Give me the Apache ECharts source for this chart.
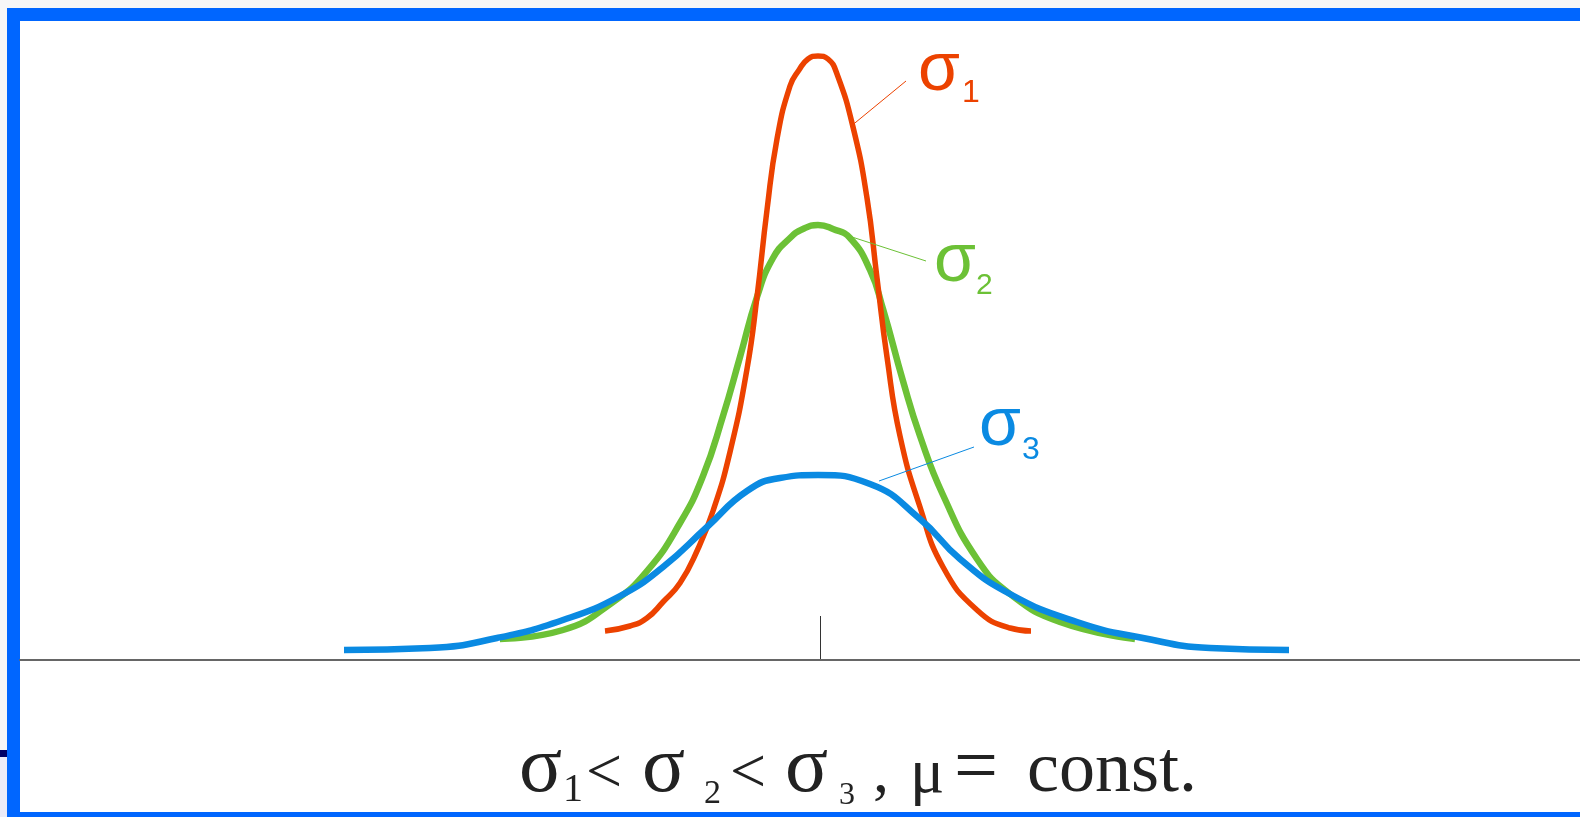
<!DOCTYPE html>
<html>
<head>
<meta charset="utf-8">
<script src="https://cdn.jsdelivr.net/npm/echarts@6/dist/echarts.min.js"></script>
<style>
  html, body { margin: 0; padding: 0; background: #f7f7f7; }
  #main { width: 1580px; height: 817px; }
</style>
</head>
<body>
<div id="main"></div>
<script>
// x positions are read in screen pixels, heights are pixels above the axis line
var sigma1X = [605, 630, 647, 663, 680, 697, 713, 730, 747, 757, 767, 777, 790, 799, 808, 818, 828, 837, 853, 867, 877, 887, 900, 920, 943, 977, 1010, 1031];
var sigma1Y = [29, 34, 42, 58, 77, 109, 149, 208, 291, 363, 450, 521, 574, 590, 601, 604, 601, 586, 533, 462, 382, 303, 224, 153, 93, 50, 32, 29];

var sigma2X = [500, 563, 613, 647, 680, 703, 723, 740, 757, 773, 790, 803, 818, 833, 850, 870, 883, 903, 920, 943, 977, 1010, 1060, 1135];
var sigma2Y = [21, 30, 58, 89, 137, 184, 244, 303, 363, 402, 422, 431, 435, 431, 422, 390, 351, 279, 224, 165, 101, 66, 38, 21];

var sigma3X = [344, 430, 497, 563, 620, 663, 707, 747, 780, 818, 870, 920, 960, 1010, 1077, 1143, 1210, 1289];
var sigma3Y = [10, 12, 22, 40, 64, 93, 133, 169, 182, 185, 176, 141, 101, 66, 38, 22, 12, 10];

var colors = ['#ec4200', '#6cc136', '#0a8ae2'];

function pairs(xs, ys) {
  return xs.map(function (x, i) { return [x, ys[i]]; });
}

// text placed by its baseline
function txt(s, x, base, size, family, color) {
  return {
    type: 'text',
    z: 100,
    style: {
      text: s,
      x: x,
      y: base - size * 0.34,
      fill: color,
      font: size + 'px ' + family,
      align: 'left',
      verticalAlign: 'middle'
    }
  };
}

function leader(x1, y1, x2, y2, color) {
  return {
    type: 'line',
    z: 90,
    shape: { x1: x1, y1: y1, x2: x2, y2: y2 },
    style: { stroke: color, lineWidth: 1 }
  };
}

var sans = '"Liberation Sans", Arial, sans-serif';
var serif = '"Liberation Serif", "Times New Roman", serif';

var chart = echarts.init(document.getElementById('main'));

var option = {
  backgroundColor: '#f7f7f7',
  animation: false,
  grid: { left: 20, right: 0, top: 20, bottom: 157 },
  xAxis: {
    type: 'value',
    min: 20,
    max: 1580,
    axisLine: { show: true, lineStyle: { color: '#666', width: 2 } },
    axisTick: { show: false },
    axisLabel: { show: false },
    splitLine: { show: false }
  },
  yAxis: {
    type: 'value',
    min: 0,
    max: 640,
    axisLine: { show: false },
    axisTick: { show: false },
    axisLabel: { show: false },
    splitLine: { show: false }
  },
  graphic: [
    { type: 'rect', z: -10, shape: { x: 7, y: 8, width: 1600, height: 820 }, style: { fill: '#0066ff' } },
    { type: 'rect', z: -9, shape: { x: 20, y: 21, width: 1580, height: 791 }, style: { fill: '#ffffff' } },
    { type: 'rect', z: -9, shape: { x: 0, y: 750, width: 7, height: 7 }, style: { fill: '#000066' } },
    { type: 'rect', z: -9, shape: { x: 0, y: 757, width: 7, height: 60 }, style: { fill: '#ebebf8' } },
    // centre tick
    { type: 'line', z: 50, shape: { x1: 820.5, y1: 616, x2: 820.5, y2: 659 }, style: { stroke: '#333', lineWidth: 1 } },

    leader(850, 127, 906, 81, colors[0]),
    leader(852, 237, 926, 261, colors[1]),
    leader(879, 481, 974, 447, colors[2]),

    txt('σ', 918, 94, 68, sans, colors[0]),
    txt('1', 962, 104, 32, sans, colors[0]),
    txt('σ', 934, 285, 68, sans, colors[1]),
    txt('2', 976, 296, 30, sans, colors[1]),
    txt('σ', 979, 449, 68, sans, colors[2]),
    txt('3', 1022, 461, 32, sans, colors[2]),

    txt('σ', 519, 797, 80, serif, '#222'),
    txt('1', 563, 804, 40, serif, '#222'),
    txt('<', 586, 797, 64, serif, '#222'),
    txt('σ', 642, 797, 80, serif, '#222'),
    txt('2', 704, 806, 34, serif, '#222'),
    txt('<', 730, 797, 64, serif, '#222'),
    txt('σ', 785, 797, 80, serif, '#222'),
    txt('3', 839, 806, 32, serif, '#222'),
    txt(',', 873, 797, 64, serif, '#222'),
    txt('μ', 910, 797, 64, serif, '#222'),
    txt('=', 954, 797, 78, serif, '#222'),
    txt('const.', 1027, 797, 72, serif, '#222')
  ],
  series: [
    {
      name: 'σ2',
      type: 'line',
      smooth: 0.5,
      showSymbol: false,
      z: 2,
      lineStyle: { color: colors[1], width: 6.5, cap: 'butt' },
      data: pairs(sigma2X, sigma2Y)
    },
    {
      name: 'σ1',
      type: 'line',
      smooth: 0.5,
      showSymbol: false,
      z: 3,
      lineStyle: { color: colors[0], width: 5.5, cap: 'butt' },
      data: pairs(sigma1X, sigma1Y)
    },
    {
      name: 'σ3',
      type: 'line',
      smooth: 0.5,
      showSymbol: false,
      z: 4,
      lineStyle: { color: colors[2], width: 6.5, cap: 'butt' },
      data: pairs(sigma3X, sigma3Y)
    }
  ]
};

option && chart.setOption(option);
</script>
</body>
</html>
